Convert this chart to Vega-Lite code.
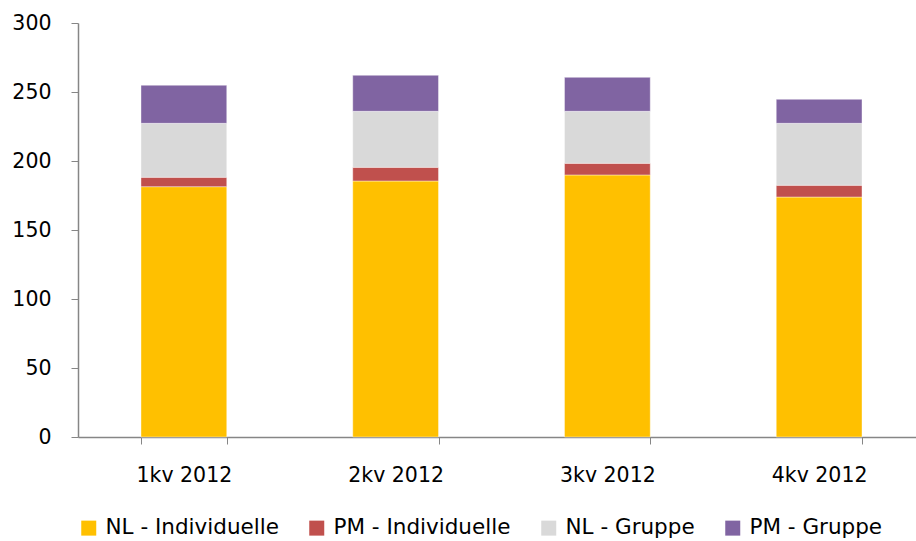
{
  "$schema": "https://vega.github.io/schema/vega-lite/v6.json",
  "width": 838,
  "height": 414,
  "autosize": {"type": "none"},
  "padding": {"left": 78, "top": 23, "right": 0, "bottom": 104},
  "background": "white",
  "config": {
    "view": {"stroke": null},
    "font": "DejaVu Sans",
    "axis": {"labelFont": "DejaVu Sans", "labelColor": "#000000", "labelFontSize": 20.5, "grid": false, "domainColor": "#868686", "tickColor": "#868686", "title": null}
  },
  "data": {
    "values": [
      {"q": "1kv 2012", "s": "NL - Individuelle", "o": 1, "v": 181.4},
      {"q": "1kv 2012", "s": "PM - Individuelle", "o": 2, "v": 6.8},
      {"q": "1kv 2012", "s": "NL - Gruppe", "o": 3, "v": 39.1},
      {"q": "1kv 2012", "s": "PM - Gruppe", "o": 4, "v": 27.6},
      {"q": "2kv 2012", "s": "NL - Individuelle", "o": 1, "v": 185.5},
      {"q": "2kv 2012", "s": "PM - Individuelle", "o": 2, "v": 9.9},
      {"q": "2kv 2012", "s": "NL - Gruppe", "o": 3, "v": 40.6},
      {"q": "2kv 2012", "s": "PM - Gruppe", "o": 4, "v": 26.1},
      {"q": "3kv 2012", "s": "NL - Individuelle", "o": 1, "v": 189.9},
      {"q": "3kv 2012", "s": "PM - Individuelle", "o": 2, "v": 8.4},
      {"q": "3kv 2012", "s": "NL - Gruppe", "o": 3, "v": 37.7},
      {"q": "3kv 2012", "s": "PM - Gruppe", "o": 4, "v": 24.6},
      {"q": "4kv 2012", "s": "NL - Individuelle", "o": 1, "v": 173.9},
      {"q": "4kv 2012", "s": "PM - Individuelle", "o": 2, "v": 8.5},
      {"q": "4kv 2012", "s": "NL - Gruppe", "o": 3, "v": 44.9},
      {"q": "4kv 2012", "s": "PM - Gruppe", "o": 4, "v": 17.4}
    ]
  },
  "mark": {"type": "bar", "stroke": "#ffffff", "strokeOpacity": 0.4, "strokeWidth": 1},
  "encoding": {
    "x": {
      "field": "q", "type": "nominal", "sort": null,
      "scale": {"range": [0, 847], "paddingInner": 0.595, "paddingOuter": 0.2975},
      "axis": {"labelAngle": 0, "tickBand": "extent", "tickSize": 7, "labelPadding": 21, "domainWidth": 1.5}
    },
    "y": {
      "field": "v", "type": "quantitative", "stack": "zero",
      "scale": {"domain": [0, 300], "nice": false},
      "axis": {"values": [0, 50, 100, 150, 200, 250, 300], "tickSize": 7, "labelPadding": 20, "domainWidth": 1.5}
    },
    "color": {
      "field": "s", "type": "nominal",
      "sort": ["NL - Individuelle", "PM - Individuelle", "NL - Gruppe", "PM - Gruppe"],
      "scale": {"domain": ["NL - Individuelle", "PM - Individuelle", "NL - Gruppe", "PM - Gruppe"], "range": ["#FFC000", "#C0504D", "#D9D9D9", "#8064A2"]},
      "legend": {"orient": "bottom", "direction": "horizontal", "title": null, "symbolType": "square", "symbolSize": 225, "symbolStrokeWidth": 0, "labelFontSize": 21.5, "labelFont": "DejaVu Sans", "labelColor": "#000000", "labelLimit": 400, "columnPadding": 27, "labelOffset": 6, "offset": 31}
    },
    "order": {"field": "o", "type": "quantitative"}
  }
}
